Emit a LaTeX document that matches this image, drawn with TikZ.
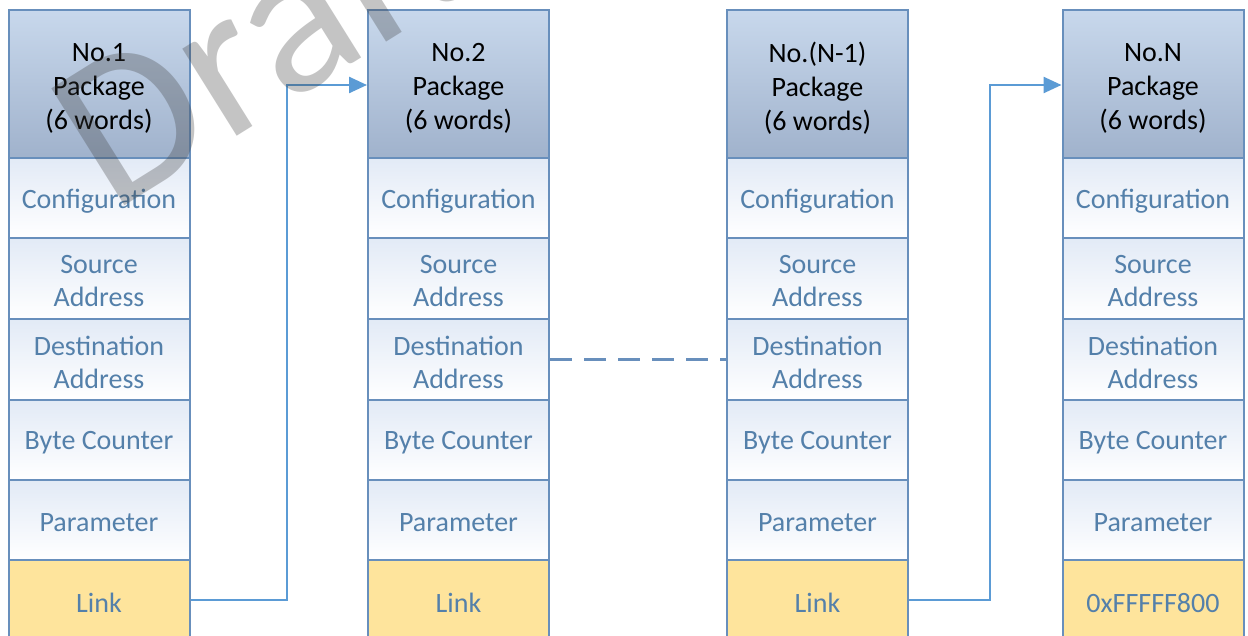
\documentclass[tikz,border=0pt]{standalone}
\usepackage{fontspec}
\setmainfont{Carlito}
\usetikzlibrary{arrows.meta}
\definecolor{bord}{RGB}{104,143,188}
\definecolor{arr}{RGB}{91,155,213}
\definecolor{txt}{RGB}{84,128,170}
\definecolor{hdrtop}{RGB}{200,216,236}
\definecolor{hdrbot}{RGB}{160,178,204}
\definecolor{celltop}{RGB}{226,234,246}
\definecolor{linkfill}{RGB}{254,228,156}
\definecolor{wm}{RGB}{60,60,60}
\tikzset{
  cellbase/.style={draw=bord, line width=2pt, minimum width=181pt, inner sep=0pt},
  cell/.style={cellbase, minimum height=80pt, top color=celltop, bottom color=white},
  hdr/.style={cellbase, minimum height=148pt, top color=hdrtop, bottom color=hdrbot},
  lnk/.style={cellbase, minimum height=80pt, fill=linkfill},
  ctext/.style={inner sep=0pt, align=center, text=txt, font=\fontsize{28}{33}\selectfont, yshift=-3pt},
  htext/.style={ctext, text=black, font=\fontsize{28}{34}\selectfont, yshift=-1pt},
  conn/.style={draw=arr, line width=2.5pt, -{Triangle[length=18pt,width=16pt]}},
  dashconn/.style={draw=bord, line width=2.5pt, dash pattern=on 22pt off 12pt},
  watermark/.style={text=wm, opacity=0.3, font=\fontsize{215}{215}\selectfont}
}
\begin{document}
\begin{tikzpicture}[x=1pt,y=-1pt]
\clip (0,0) rectangle (1248,636);
\fill[white] (0,0) rectangle (1248,636);
\foreach \c/\x/\t/\l in {1/99/No.1/Link, 2/458.5/No.2/Link, 3/817.5/No.(N-1)/Link, 4/1153/No.N/0xFFFFF800}{
  \node[hdr] (h\c) at (\x,84) {};
  \node[htext] (h\c-t) at (h\c.center) {\t\\Package\\(6 words)};
  \node[cell] (cfg\c) at (\x,198) {};
  \node[ctext] (cfg\c-t) at (cfg\c.center) {Configuration};
  \node[cell, minimum height=81pt] (src\c) at (\x,278.5) {};
  \node[ctext] (src\c-t) at (src\c.center) {Source\\Address};
  \node[cell, minimum height=81pt] (dst\c) at (\x,359.5) {};
  \node[ctext] (dst\c-t) at (dst\c.center) {Destination\\Address};
  \node[cell] (bc\c) at (\x,440) {};
  \node[ctext] (bc\c-t) at (bc\c.center) {Byte Counter};
  \node[cell] (par\c) at (\x,520) {};
  \node[ctext] (par\c-t) at (par\c.center) {Parameter};
  \node[lnk] (lk\c) at (\x,600) {};
  \node[ctext] (lk\c-t) at (lk\c.center) {\l};
}
\coordinate (t1) at (287,600);
\coordinate (t2) at (287,85);
\coordinate (t3) at (990,600);
\coordinate (t4) at (990,85);
\draw[conn] (lk1.east) -- (t1) -- (t2) -- (h2.west |- t2);
\draw[conn] (lk3.east) -- (t3) -- (t4) -- (h4.west |- t4);
\draw[dashconn] (dst2.east) -- (dst3.west);
\node[watermark, rotate=32, anchor=base west] (wmk) at (110,215) {Draft};
\end{tikzpicture}
\end{document}
